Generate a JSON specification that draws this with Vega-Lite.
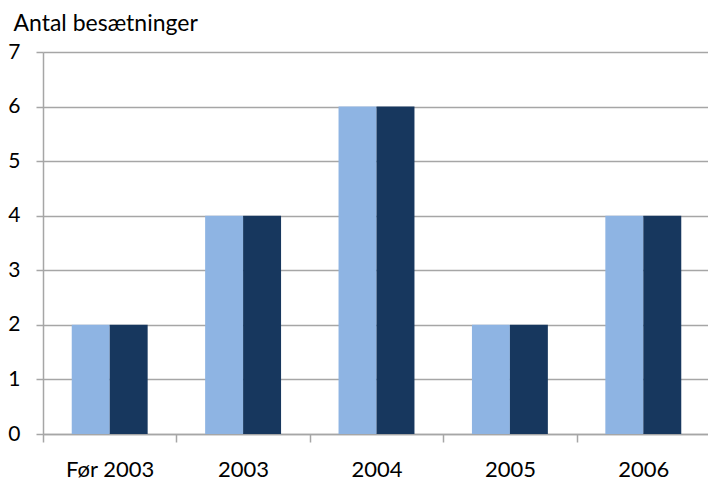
{
  "$schema": "https://vega.github.io/schema/vega-lite/v6.json",
  "width": 667,
  "height": 382,
  "autosize": {"type": "none"},
  "padding": {"left": 43, "top": 52, "right": 0, "bottom": 47},
  "background": "white",
  "config": {
    "view": {"stroke": null},
    "font": "Lato",
    "axis": {"labelFont": "Lato", "titleFont": "Lato", "labelColor": "#000", "titleColor": "#000"}
  },
  "data": {
    "values": [
      {"period": "Før 2003", "series": "A", "value": 2},
      {"period": "Før 2003", "series": "B", "value": 2},
      {"period": "2003", "series": "A", "value": 4},
      {"period": "2003", "series": "B", "value": 4},
      {"period": "2004", "series": "A", "value": 6},
      {"period": "2004", "series": "B", "value": 6},
      {"period": "2005", "series": "A", "value": 2},
      {"period": "2005", "series": "B", "value": 2},
      {"period": "2006", "series": "A", "value": 4},
      {"period": "2006", "series": "B", "value": 4}
    ]
  },
  "mark": {"type": "bar"},
  "encoding": {
    "x": {
      "field": "period",
      "type": "nominal",
      "sort": ["Før 2003", "2003", "2004", "2005", "2006"],
      "scale": {"paddingInner": 0, "paddingOuter": 0},
      "axis": {
        "title": null,
        "labelAngle": 0,
        "labelFontSize": 22,
        "labelPadding": 17,
        "tickBand": "extent",
        "tickSize": 8,
        "tickColor": "#a6a6a6",
        "domainColor": "#a6a6a6",
        "domainWidth": 1.5,
        "tickWidth": 1.5
      }
    },
    "xOffset": {
      "field": "series",
      "type": "nominal",
      "scale": {"paddingInner": 0, "paddingOuter": 0.757}
    },
    "y": {
      "field": "value",
      "type": "quantitative",
      "scale": {"domain": [0, 7], "nice": false},
      "axis": {
        "title": "Antal besætninger",
        "titleAngle": 0,
        "titleAlign": "left",
        "titleBaseline": "alphabetic",
        "titleX": -30,
        "titleY": -22,
        "titleFontSize": 23,
        "titleFontWeight": "normal",
        "values": [0, 1, 2, 3, 4, 5, 6, 7],
        "labelOverlap": false,
        "labelFontSize": 21,
        "labelPadding": 16,
        "tickSize": 7,
        "tickColor": "#a6a6a6",
        "domainColor": "#a6a6a6",
        "domainWidth": 1.5,
        "tickWidth": 1.5,
        "grid": true,
        "gridColor": "#a6a6a6",
        "gridWidth": 1.5
      }
    },
    "color": {
      "field": "series",
      "type": "nominal",
      "scale": {"domain": ["A", "B"], "range": ["#8EB4E3", "#17375E"]},
      "legend": null
    }
  }
}
